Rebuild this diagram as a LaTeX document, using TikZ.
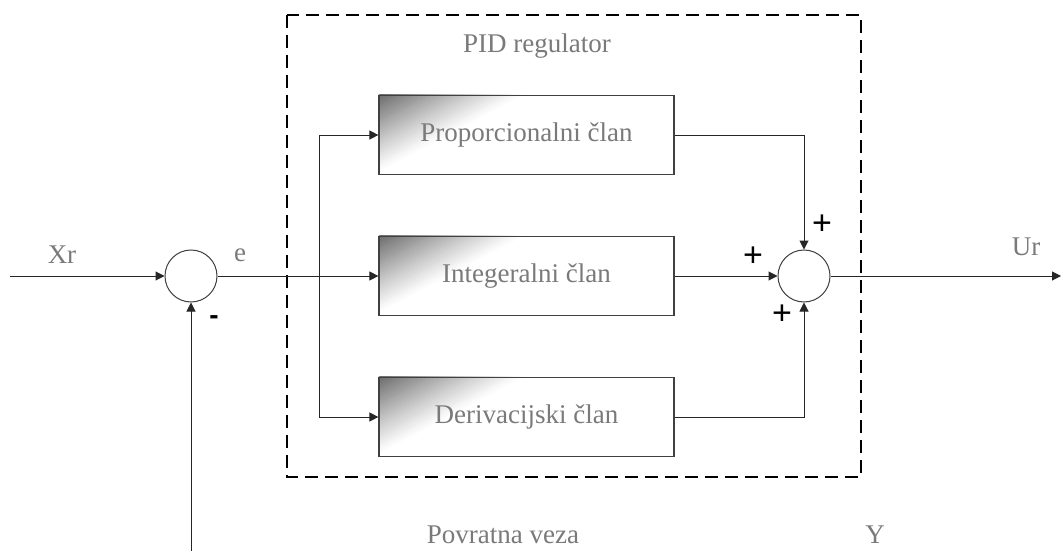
\documentclass[tikz,border=0pt]{standalone}
\usepackage{fontspec}
\setmainfont{Liberation Serif}
\newfontfamily\plusfont{Liberation Sans}
\usetikzlibrary{arrows.meta,backgrounds}
\definecolor{txtgray}{HTML}{7A7A7A}
\definecolor{boxlight}{HTML}{FFFFFF}
\definecolor{cornergray}{HTML}{6C6C6C}
\tikzset{
  blockbox/.style={draw=black!75, line width=1.2pt, minimum width=295pt, minimum height=79pt, inner sep=0pt, text=txtgray, font=\fontsize{27}{30}\selectfont},
  sumnode/.style={circle, draw=black!75, line width=1pt, minimum size=52pt, inner sep=0pt},
  conn/.style={draw=black!85, line width=1pt},
  arr/.style={conn, -{Triangle[length=9pt,width=9pt]}},
  lbl/.style={text=txtgray, font=\fontsize{27}{30}\selectfont, inner sep=0pt},
  sign/.style={font=\plusfont\fontsize{34}{36}\selectfont, inner sep=0pt, text=black},
  framebox/.style={draw=black, line width=2.6pt, dash pattern=on 13pt off 7pt}
}
\newcommand\boxgrad[1]{%
  \begin{scope}
    \clip (#1.south west) rectangle (#1.north east);
    \fill[boxlight] (#1.south west) rectangle (#1.north east);
    \begin{scope}[shift={(#1.north west)}, rotate=-62]
      \foreach \i in {0,...,34}{
        \pgfmathtruncatemacro\mixv{100*(1-\i/34)^1.1}
        \fill[cornergray!\mixv!boxlight] (\i*2,-300) rectangle (\i*2+2.4,300);
      }
    \end{scope}
  \end{scope}}

\begin{document}
\begin{tikzpicture}[x=1pt,y=-1pt]
\useasboundingbox (0,0) rectangle (1061,551);

% frame of the PID regulator
\draw[framebox] (287,15) rectangle (861,477);
\node[lbl, anchor=base] (pidlbl) at (537,53) {PID regulator};

% blocks
\node[blockbox] (P) at (526.5,135) {Proporcionalni član};
\node[blockbox] (I) at (526.5,276) {Integeralni član};
\node[blockbox] (D) at (526.5,417) {Derivacijski član};

% summing junctions
\node[sumnode] (s1) at (191,276) {};
\node[sumnode] (s2) at (804,276) {};

% free ends
\coordinate (in) at (10,276);
\coordinate (out) at (1061,276);
\coordinate (fb) at (191,551);
\coordinate (br) at (319,276);

% connectors
\draw[arr] (in) -- (s1);
\draw[arr] (fb) -- (s1);
\draw[arr] (s1) -- (I);
\draw[arr] (br) |- (P);
\draw[arr] (br) |- (D);
\draw[arr] (P) -| (s2);
\draw[arr] (I) -- (s2);
\draw[arr] (D) -| (s2);
\draw[arr] (s2) -- (out);

% labels
\node[lbl] (xr) at (62,255) {Xr};
\node[lbl] (e) at (240,255) {e};
\node[lbl] (ur) at (1026,247) {Ur};
\node[lbl] (pv) at (503,535) {Povratna veza};
\node[lbl] (y) at (875,535) {Y};
\node[sign, font=\plusfont\bfseries\fontsize{28}{30}\selectfont] (minus) at (214,320) {-};
\node[sign] (p1) at (822,225) {+};
\node[sign] (p2) at (753,257) {+};
\node[sign] (p3) at (782,315) {+};

\begin{scope}[on background layer]
  \fill[white] (0,0) rectangle (1061,551);
  \boxgrad{P}
  \boxgrad{I}
  \boxgrad{D}
\end{scope}
\end{tikzpicture}
\end{document}
